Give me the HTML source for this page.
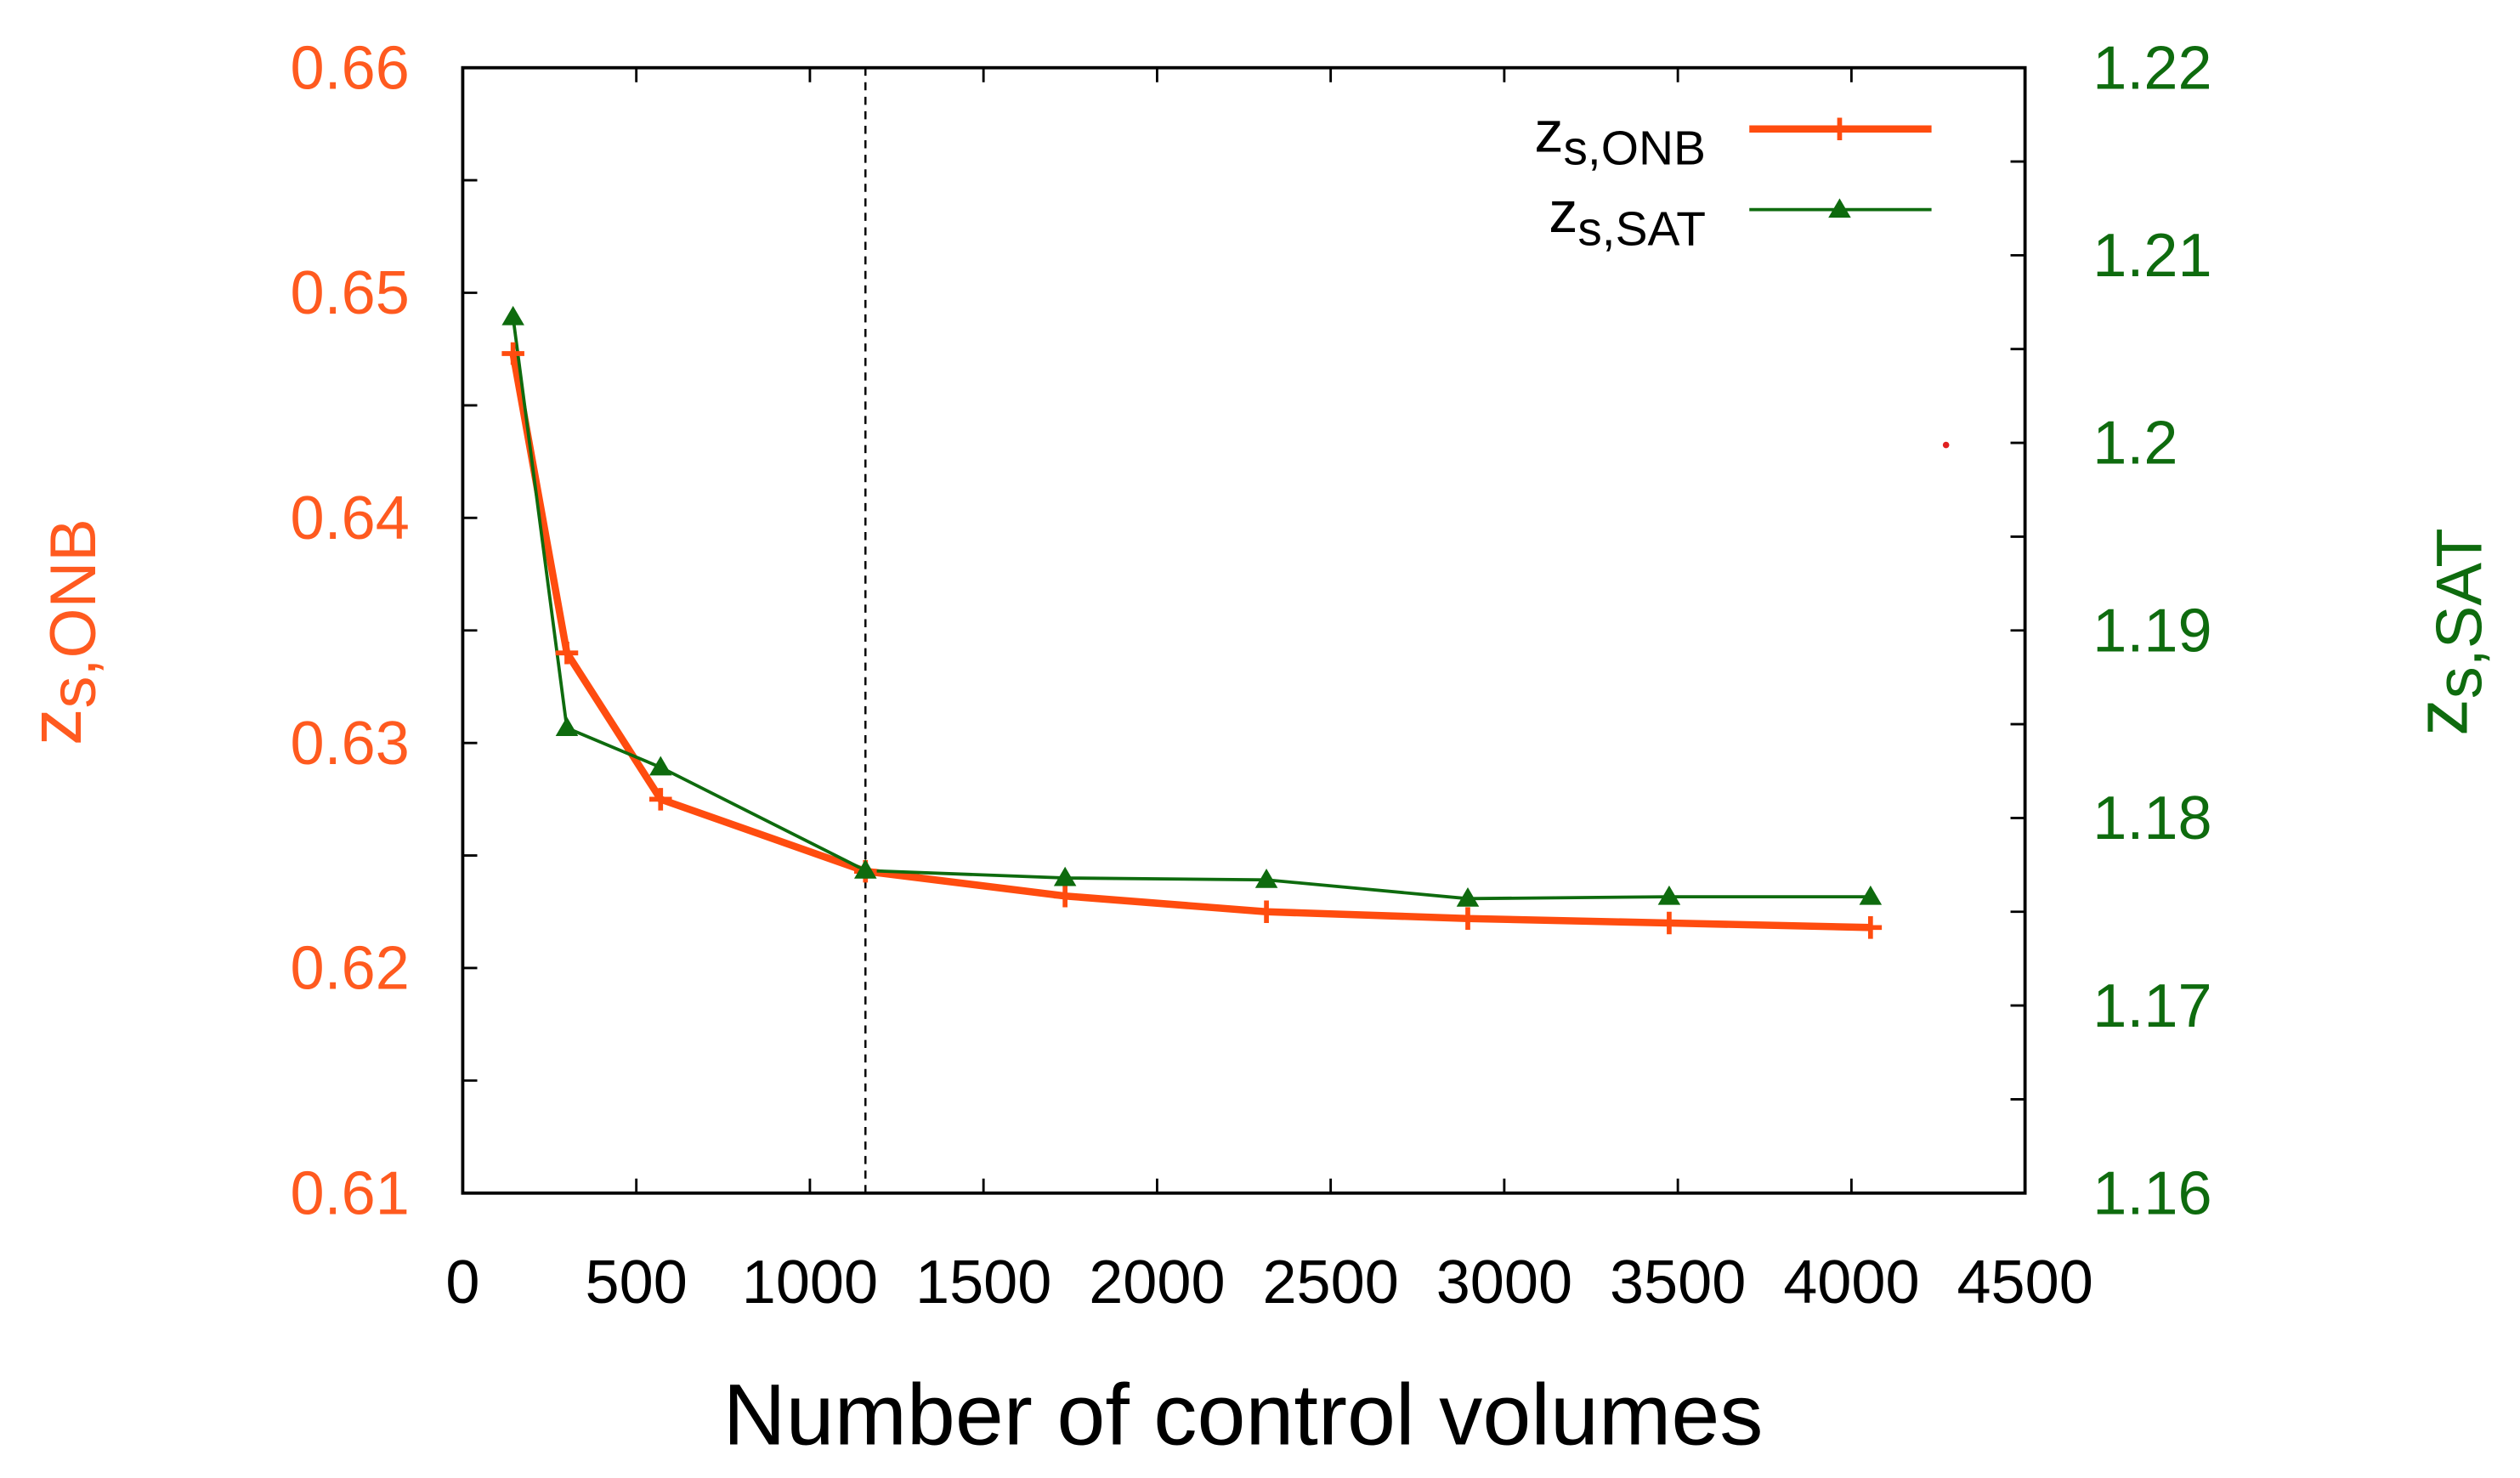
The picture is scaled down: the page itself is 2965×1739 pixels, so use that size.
<!DOCTYPE html>
<html><head><meta charset="utf-8"><style>
html,body{margin:0;padding:0;background:#fff;}
svg{display:block;font-family:"Liberation Sans",sans-serif;}
</style></head><body>
<svg id="chart" width="2965" height="1739" viewBox="0 0 1563 916.7" xmlns="http://www.w3.org/2000/svg">
<g id="axes"></g>
<g id="series"></g>
</svg>
<script>
const xValues=[145,300,570,1160,1735,2315,2895,3475,4055];
const onbValues=[0.6473,0.6340,0.6275,0.6243,0.6232,0.6225,0.6222,0.6220,0.6218];
const satValues=[1.2067,1.1848,1.1827,1.1772,1.1768,1.1767,1.1757,1.1758,1.1758];
const xTicks=[0,500,1000,1500,2000,2500,3000,3500,4000,4500];
const leftTicks=[0.61,0.62,0.63,0.64,0.65,0.66];
const rightTicks=[1.16,1.17,1.18,1.19,1.20,1.21,1.22];
const rightTickLabels=["1.16","1.17","1.18","1.19","1.2","1.21","1.22"];
const markerX=1160;

const L=287,R=1256,T=42,B=740;
const ORANGE="#ff4c0f",GREEN="#0e6b0e",LABELO="#ff5a1f";
const sx=v=>L+(v-0)/(4500-0)*(R-L);
const syL=v=>B-(v-0.61)/(0.66-0.61)*(B-T);
const syR=v=>B-(v-1.16)/(1.22-1.16)*(B-T);
const NS="http://www.w3.org/2000/svg";
const axes=document.getElementById('axes'),ser=document.getElementById('series');
function mk(tag,attrs,parent,text){const e=document.createElementNS(NS,tag);for(const k in attrs)e.setAttribute(k,attrs[k]);if(text!==undefined)e.textContent=text;parent.appendChild(e);return e;}

let fr=mk('rect',{x:L,y:T,width:R-L,height:B-T,fill:'none',stroke:'#000','stroke-width':2},axes);



xTicks.forEach(v=>{
  const x=sx(v);
  mk('line',{x1:x,y1:B,x2:x,y2:B-9,stroke:'#000','stroke-width':1.5},axes);
  mk('line',{x1:x,y1:T,x2:x,y2:T+9,stroke:'#000','stroke-width':1.5},axes);
  const t=mk('text',{x:x,y:B+68,'text-anchor':'middle','font-size':38,fill:'#000'},axes,String(v));
  
  
});
for(let i=0;i<leftTicks.length;i++){
  const v=leftTicks[i],y=syL(v);
  mk('line',{x1:L,y1:y,x2:L+9,y2:y,stroke:'#000','stroke-width':1.5},axes);
  if(i<leftTicks.length-1){const ym=syL(v+0.005);mk('line',{x1:L,y1:ym,x2:L+9,y2:ym,stroke:'#000','stroke-width':1.5},axes);}
  const t=mk('text',{x:254,y:y+13,'text-anchor':'end','font-size':38,fill:LABELO},axes,v.toFixed(2));
  
  
}
for(let i=0;i<rightTicks.length;i++){
  const v=rightTicks[i],y=syR(v);
  mk('line',{x1:R,y1:y,x2:R-9,y2:y,stroke:'#000','stroke-width':1.5},axes);
  if(i<rightTicks.length-1){const ym=syR(v+0.005);mk('line',{x1:R,y1:ym,x2:R-9,y2:ym,stroke:'#000','stroke-width':1.5},axes);}
  const t=mk('text',{x:1298,y:y+13,'text-anchor':'start','font-size':38,fill:GREEN},axes,rightTickLabels[i]);
  
  
}
let xt=mk('text',{x:771,y:896,'text-anchor':'middle','font-size':54,fill:'#000'},axes,'Number of control volumes');


let yl=mk('text',{transform:'translate(50,392) rotate(-90)','text-anchor':'middle','font-size':46,fill:LABELO},axes);


mk('tspan',{},yl,'z');mk('tspan',{dy:9,'font-size':40},yl,'s,ONB');
let yr=mk('text',{transform:'translate(1530,392) rotate(-90)','text-anchor':'middle','font-size':46,fill:GREEN},axes);


mk('tspan',{},yr,'z');mk('tspan',{dy:9,'font-size':40},yr,'s,SAT');

let dl=mk('line',{x1:sx(markerX),y1:T,x2:sx(markerX),y2:B,stroke:'#000','stroke-width':1.3,'stroke-dasharray':'5,4'},axes);


let dot=mk('circle',{cx:1207,cy:276,r:2,fill:'#e02020'},axes);



function plus(x,y,c,p){mk('path',{d:`M${x-7},${y}H${x+7}M${x},${y-7}V${y+7}`,stroke:c,'stroke-width':3},p);}
function tri(x,y,c,p){mk('path',{d:`M${x},${y-7}L${x+7},${y+5}L${x-7},${y+5}Z`,fill:c},p);}
let onb=mk('polyline',{points:xValues.map((v,i)=>sx(v)+','+syL(onbValues[i])).join(' '),fill:'none',stroke:ORANGE,'stroke-width':4.5},ser);


let sat=mk('polyline',{points:xValues.map((v,i)=>sx(v)+','+syR(satValues[i])).join(' '),fill:'none',stroke:GREEN,'stroke-width':2},ser);


xValues.forEach((v,i)=>{plus(sx(v),syL(onbValues[i]),ORANGE,ser);tri(sx(v),syR(satValues[i]),GREEN,ser);});

let lg=mk('g',{},axes);


let t1=mk('text',{x:1058,y:94,'text-anchor':'end','font-size':36,fill:'#000'},lg);


mk('tspan',{},t1,'z');mk('tspan',{dy:8,'font-size':30},t1,'s,ONB');
mk('line',{x1:1085,y1:80,x2:1198,y2:80,stroke:ORANGE,'stroke-width':4.5},lg);
plus(1141,80,ORANGE,lg);
let t2=mk('text',{x:1058,y:144,'text-anchor':'end','font-size':36,fill:'#000'},lg);


mk('tspan',{},t2,'z');mk('tspan',{dy:8,'font-size':30},t2,'s,SAT');
mk('line',{x1:1085,y1:130,x2:1198,y2:130,stroke:GREEN,'stroke-width':2},lg);
tri(1141,130,GREEN,lg);
</script>
</body></html>
